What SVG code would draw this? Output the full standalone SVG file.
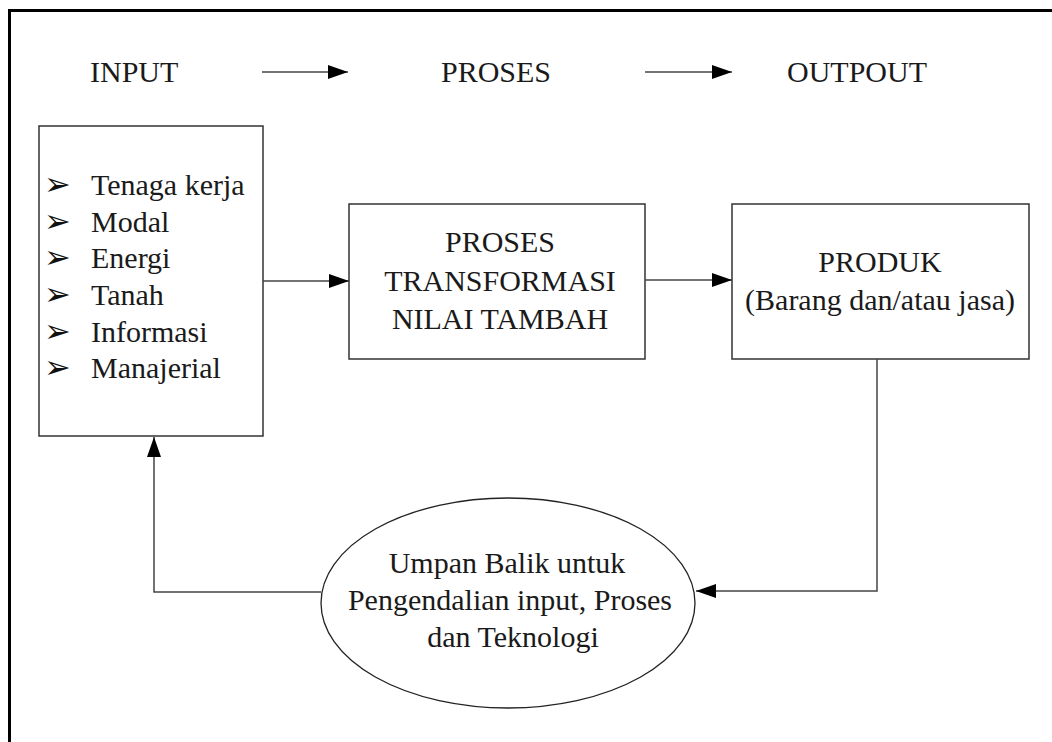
<svg xmlns="http://www.w3.org/2000/svg" width="1052" height="742" viewBox="0 0 1052 742">
<style>
.t{font-family:'Liberation Serif','Times New Roman',serif;font-size:30px;fill:#1a1a1a}
.m{text-anchor:middle}
.box{fill:#fff;stroke:#333;stroke-width:1.5}
.ln{fill:none;stroke:#444;stroke-width:1.5}
.b{font-family:'DejaVu Sans',sans-serif;font-size:32px;fill:#111}
</style>
<defs>
<marker id="ah" markerUnits="userSpaceOnUse" markerWidth="20" markerHeight="14" refX="20" refY="7" orient="auto">
<path d="M0,0 L20,7 L0,14 z" fill="#000"/>
</marker>
</defs>
<rect width="1052" height="742" fill="#fff"/>
<rect x="9.5" y="10.5" width="1070" height="770" fill="none" stroke="#000" stroke-width="3"/>
<g id="headers">
<text class="t" x="90" y="82">INPUT</text>
<text class="t" x="441" y="82">PROSES</text>
<text class="t" x="787" y="82">OUTPOUT</text>
</g>
<g id="input">
<rect class="box" x="39" y="126" width="224" height="310"/>
<text class="b" x="44" y="195">➢</text>
<text class="b" x="44" y="232">➢</text>
<text class="b" x="44" y="268">➢</text>
<text class="b" x="44" y="305">➢</text>
<text class="b" x="44" y="342">➢</text>
<text class="b" x="44" y="378">➢</text>
<text class="t" x="91" y="195">Tenaga kerja</text>
<text class="t" x="91" y="232">Modal</text>
<text class="t" x="91" y="268">Energi</text>
<text class="t" x="91" y="305">Tanah</text>
<text class="t" x="91" y="342">Informasi</text>
<text class="t" x="91" y="378">Manajerial</text>
</g>
<g id="proses">
<rect class="box" x="349" y="204" width="296" height="155"/>
<text class="t m" x="500" y="252">PROSES</text>
<text class="t m" x="500" y="291">TRANSFORMASI</text>
<text class="t m" x="500" y="329">NILAI TAMBAH</text>
</g>
<g id="produk">
<rect class="box" x="732" y="204" width="297" height="155"/>
<text class="t m" x="880" y="272">PRODUK</text>
<text class="t m" x="880" y="310">(Barang dan/atau jasa)</text>
</g>
<g id="umpan">
<ellipse cx="508" cy="603" rx="187" ry="105" fill="#fff" stroke="#222" stroke-width="1.3"/>
<text class="t m" x="507" y="573">Umpan Balik untuk</text>
<text class="t m" x="510" y="610">Pengendalian input, Proses</text>
<text class="t m" x="513" y="647">dan Teknologi</text>
</g>
<g id="connectors">
<line class="ln" x1="262" y1="72" x2="348" y2="72" marker-end="url(#ah)"/>
<line class="ln" x1="645" y1="72" x2="732" y2="72" marker-end="url(#ah)"/>
<line class="ln" x1="263" y1="281" x2="349" y2="281" marker-end="url(#ah)"/>
<line class="ln" x1="645" y1="280" x2="732" y2="280" marker-end="url(#ah)"/>
<polyline class="ln" points="877,359 877,591 696,591" marker-end="url(#ah)"/>
<polyline class="ln" points="321,592 154,592 154,437" marker-end="url(#ah)"/>
</g>
</svg>
